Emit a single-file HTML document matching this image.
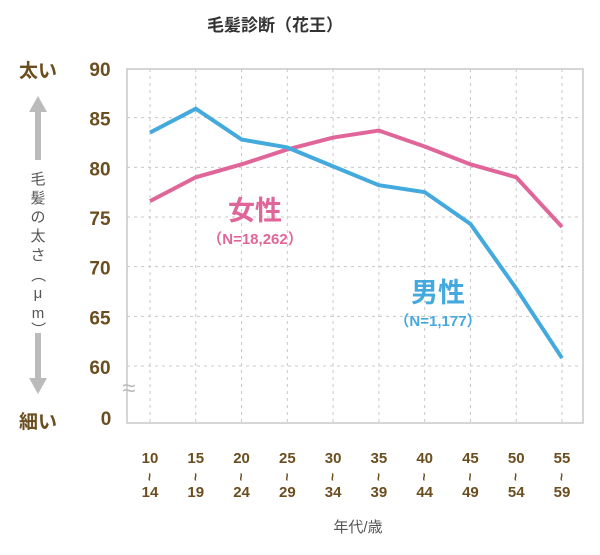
<!DOCTYPE html>
<html><head><meta charset="utf-8"><style>
body{margin:0;background:#fff;width:600px;height:550px;overflow:hidden}
svg text{font-family:"Liberation Sans","Noto Sans CJK JP",sans-serif}
</style></head><body>
<svg width="600" height="550">
<text x="275" y="31" font-size="17" font-weight="bold" fill="#333" text-anchor="middle">毛髪診断（花王）</text>
<g id="grid"></g>
<rect x="127" y="69" width="456" height="354" fill="none" stroke="#c8c8c8" stroke-width="1.5"/>
<g id="yticks"></g>
<g id="xticks"></g>
<text x="129" y="396" font-size="24" fill="#bbb" text-anchor="middle">≈</text>
<text x="38" y="77" font-size="19" font-weight="bold" fill="#6b4e1f" text-anchor="middle">太い</text>
<text x="38" y="428" font-size="19" font-weight="bold" fill="#6b4e1f" text-anchor="middle">細い</text>
<g><polygon points="38,96 29,112 47,112" fill="#bbb"/><rect x="35" y="110" width="6" height="50" fill="#bbb"/></g>
<g><rect x="35" y="333" width="6" height="48" fill="#bbb"/><polygon points="38,394 29,378 47,378" fill="#bbb"/></g>
<g font-size="15" fill="#555" text-anchor="middle">
<text x="38" y="184">毛</text><text x="38" y="203">髪</text><text x="38" y="222">の</text><text x="38" y="241">太</text><text x="38" y="260">さ</text>
<text x="38" y="280" transform="rotate(90 38 275)">（</text><text x="38" y="298">μ</text><text x="38" y="318">m</text>
<text x="38" y="334" transform="rotate(90 38 329)">）</text>
</g>
<g id="series"></g>
<text x="255" y="220" font-size="27" font-weight="bold" fill="#e0669a" text-anchor="middle">女性</text>
<text x="255" y="244" font-size="15" font-weight="bold" fill="#e0669a" text-anchor="middle">（N=18,262）</text>
<text x="438" y="302" font-size="27" font-weight="bold" fill="#44aadd" text-anchor="middle">男性</text>
<text x="438" y="326" font-size="15" font-weight="bold" fill="#44aadd" text-anchor="middle">（N=1,177）</text>
<text x="358" y="532" font-size="15" fill="#555" text-anchor="middle">年代/歳</text>
</svg>
<script>
const categories=["10-14","15-19","20-24","25-29","30-34","35-39","40-44","45-49","50-54","55-59"];
const female=[76.6,79,80.3,81.8,83,83.7,82.1,80.3,79,74];
const male=[83.5,85.9,82.8,82,80.1,78.2,77.5,74.3,67.8,60.8];
const yTicks=[60,65,70,75,80,85,90];
const NS="http://www.w3.org/2000/svg";
function x(i){return 150+i*(562-150)/(categories.length-1);}
function y(v){return 366+(v-60)*(68-366)/30;}
function mk(t,a,p){const e=document.createElementNS(NS,t);for(const k in a)e.setAttribute(k,a[k]);p.appendChild(e);return e;}
const grid=document.getElementById('grid'),yt=document.getElementById('yticks'),xt=document.getElementById('xticks'),sr=document.getElementById('series');
yTicks.forEach(v=>{
 if(v<90){const l=mk('line',{x1:127,x2:583,y1:y(v),y2:y(v),stroke:'#c8c8c8','stroke-dasharray':'3,4'},grid);
 
 }
 const t=mk('text',{x:100,y:y(v)+8,'font-size':19,'font-weight':'bold',fill:'#6b4e1f','text-anchor':'middle'},yt);t.textContent=v;
 
 
});
const z=mk('text',{x:106,y:425,'font-size':19,'font-weight':'bold',fill:'#6b4e1f','text-anchor':'middle'},yt);z.textContent='0';


categories.forEach((c,i)=>{
 const l=mk('line',{x1:x(i),x2:x(i),y1:69,y2:423,stroke:'#c8c8c8','stroke-dasharray':'3,4'},grid);
 
 
 const [a,b]=c.split('-');
 const g=mk('g',{},xt);
 
 
 mk('text',{x:x(i),y:463,'font-size':15,'font-weight':'bold',fill:'#6b4e1f','text-anchor':'middle'},g).textContent=a;
 mk('text',{x:x(i),y:482,'font-size':14,'font-weight':'bold',fill:'#6b4e1f','text-anchor':'middle',transform:'rotate(90 '+x(i)+' 477)'},g).textContent='~';
 mk('text',{x:x(i),y:497,'font-size':15,'font-weight':'bold',fill:'#6b4e1f','text-anchor':'middle'},g).textContent=b;
});
function line(d,col,name){const p=mk('polyline',{points:d.map((v,i)=>x(i)+','+y(v)).join(' '),fill:'none',stroke:col,'stroke-width':4,'stroke-linejoin':'miter'},sr);
 
 }
line(female,'#e0669a','female-line');
line(male,'#44aadd','male-line');
</script>
</body></html>
